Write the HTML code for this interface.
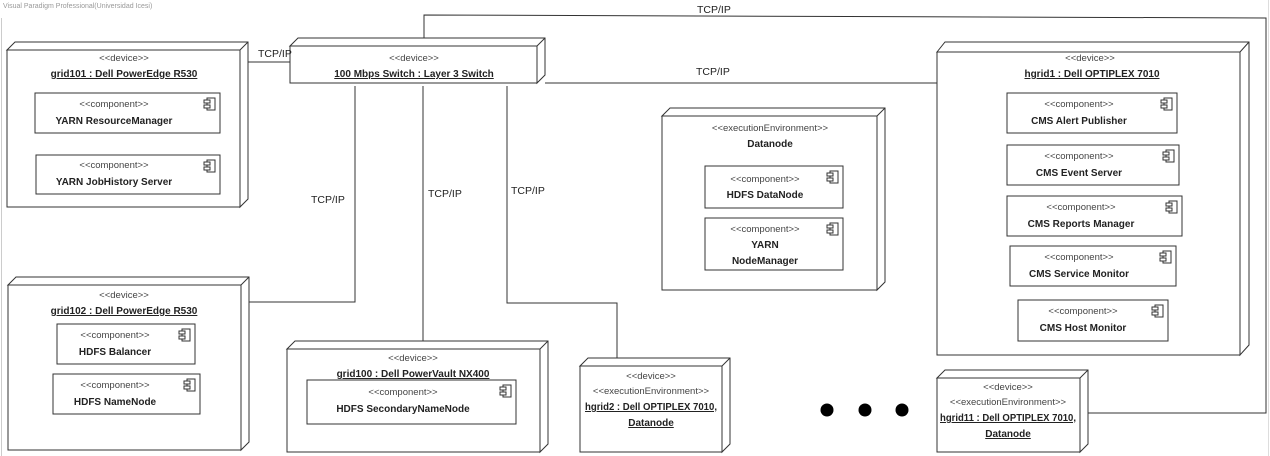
<!DOCTYPE html>
<html><head><meta charset="utf-8"><style>
html,body{margin:0;padding:0;background:#fff;}
svg{display:block;font-family:"Liberation Sans",Arial,sans-serif;}
.s{font-size:9.5px;fill:#444;}
.n{font-size:10px;font-weight:bold;fill:#222;}
.u{text-decoration:underline;}
.l{font-size:10.5px;fill:#222;}
</style></head><body>
<svg width="1270" height="456" viewBox="0 0 1270 456" xmlns="http://www.w3.org/2000/svg">
<defs>
<g id="ci"><rect x="0" y="0" width="8" height="12" fill="#fff" stroke="#333" stroke-width="1"/><rect x="-3" y="2" width="6" height="3" fill="#fff" stroke="#333" stroke-width="1"/><rect x="-3" y="7" width="6" height="3" fill="#fff" stroke="#333" stroke-width="1"/></g>
</defs>
<text x="3" y="8" style="font-size:7px;fill:#999">Visual Paradigm Professional(Universidad Icesi)</text>
<line x1="1.5" y1="18" x2="1.5" y2="456" stroke="#ccc"/>
<line x1="1268.5" y1="0" x2="1268.5" y2="456" stroke="#ddd"/>
<g fill="none" stroke="#333" stroke-width="1">
<polyline points="240,62 290,62"/>
<polyline points="424,40 424,15 1266,18 1266,413 1088,413"/>
<polyline points="545,83 937,83"/>
<polyline points="355,86 355,302 249,302"/>
<polyline points="423,86 423,341"/>
<polyline points="507,86 507,303 617,303 617,358"/>
</g>
<g fill="#fff" stroke="#333" stroke-width="1">
<polygon points="7,50 15,42 248,42 248,199 240,207 240,50"/>
<rect x="7" y="50" width="233" height="157"/>
<line x1="240" y1="50" x2="248" y2="42"/>
<polygon points="290,46 298,38 545,38 545,75 537,83 537,46"/>
<rect x="290" y="46" width="247" height="37"/>
<line x1="537" y1="46" x2="545" y2="38"/>
<polygon points="8,285 16,277 249,277 249,442 241,450 241,285"/>
<rect x="8" y="285" width="233" height="165"/>
<line x1="241" y1="285" x2="249" y2="277"/>
<polygon points="287,349 295,341 548,341 548,444 540,452 540,349"/>
<rect x="287" y="349" width="253" height="103"/>
<line x1="540" y1="349" x2="548" y2="341"/>
<polygon points="580,366 588,358 730,358 730,444 722,452 722,366"/>
<rect x="580" y="366" width="142" height="86"/>
<line x1="722" y1="366" x2="730" y2="358"/>
<polygon points="937,378 945,370 1088,370 1088,444 1080,452 1080,378"/>
<rect x="937" y="378" width="143" height="74"/>
<line x1="1080" y1="378" x2="1088" y2="370"/>
<polygon points="662,116 670,108 885,108 885,282 877,290 877,116"/>
<rect x="662" y="116" width="215" height="174"/>
<line x1="877" y1="116" x2="885" y2="108"/>
<polygon points="937,52 945,42 1249,42 1249,345 1240,355 1240,52"/>
<rect x="937" y="52" width="303" height="303"/>
<line x1="1240" y1="52" x2="1249" y2="42"/>
<rect x="35" y="93" width="185" height="40"/>
<rect x="36" y="155" width="184" height="39"/>
<rect x="57" y="324" width="138" height="40"/>
<rect x="53" y="374" width="147" height="40"/>
<rect x="307" y="380" width="209" height="44"/>
<rect x="705" y="166" width="138" height="42"/>
<rect x="705" y="218" width="138" height="52"/>
<rect x="1007" y="93" width="170" height="40"/>
<rect x="1007" y="145" width="172" height="40"/>
<rect x="1007" y="196" width="175" height="40"/>
<rect x="1010" y="246" width="166" height="40"/>
<rect x="1018" y="300" width="150" height="41"/>
</g>
<use href="#ci" x="207" y="98"/><use href="#ci" x="207" y="160"/>
<use href="#ci" x="182" y="329"/><use href="#ci" x="187" y="379"/>
<use href="#ci" x="503" y="385"/>
<use href="#ci" x="830" y="171"/><use href="#ci" x="830" y="223"/>
<use href="#ci" x="1164" y="98"/><use href="#ci" x="1166" y="150"/>
<use href="#ci" x="1169" y="201"/><use href="#ci" x="1163" y="251"/>
<use href="#ci" x="1155" y="305"/>
<g fill="#000"><circle cx="827" cy="410" r="6.5"/><circle cx="865" cy="410" r="6.5"/><circle cx="902" cy="410" r="6.5"/></g>
<g text-anchor="middle">
<text class="s" x="124" y="61">&lt;&lt;device&gt;&gt;</text>
<text class="n u" x="124" y="77">grid101 : Dell PowerEdge R530</text>
<text class="s" x="114" y="107">&lt;&lt;component&gt;&gt;</text>
<text class="n" x="114" y="124">YARN ResourceManager</text>
<text class="s" x="114" y="168">&lt;&lt;component&gt;&gt;</text>
<text class="n" x="114" y="185">YARN JobHistory Server</text>
<text class="s" x="414" y="61">&lt;&lt;device&gt;&gt;</text>
<text class="n u" x="414" y="77">100 Mbps Switch : Layer 3 Switch</text>
<text class="s" x="124" y="298">&lt;&lt;device&gt;&gt;</text>
<text class="n u" x="124" y="314">grid102 : Dell PowerEdge R530</text>
<text class="s" x="115" y="338">&lt;&lt;component&gt;&gt;</text>
<text class="n" x="115" y="355">HDFS Balancer</text>
<text class="s" x="115" y="388">&lt;&lt;component&gt;&gt;</text>
<text class="n" x="115" y="405">HDFS NameNode</text>
<text class="s" x="413" y="361">&lt;&lt;device&gt;&gt;</text>
<text class="n u" x="413" y="377">grid100 : Dell PowerVault NX400</text>
<text class="s" x="403" y="395">&lt;&lt;component&gt;&gt;</text>
<text class="n" x="403" y="412">HDFS SecondaryNameNode</text>
<text class="s" x="651" y="379">&lt;&lt;device&gt;&gt;</text>
<text class="s" x="651" y="394">&lt;&lt;executionEnvironment&gt;&gt;</text>
<text class="n u" x="651" y="410" textLength="132" lengthAdjust="spacingAndGlyphs">hgrid2 : Dell OPTIPLEX 7010,</text>
<text class="n u" x="651" y="426">Datanode</text>
<text class="s" x="1008" y="390">&lt;&lt;device&gt;&gt;</text>
<text class="s" x="1008" y="405">&lt;&lt;executionEnvironment&gt;&gt;</text>
<text class="n u" x="1008" y="421" textLength="136" lengthAdjust="spacingAndGlyphs">hgrid11 : Dell OPTIPLEX 7010,</text>
<text class="n u" x="1008" y="437">Datanode</text>
<text class="s" x="770" y="131">&lt;&lt;executionEnvironment&gt;&gt;</text>
<text class="n" x="770" y="147">Datanode</text>
<text class="s" x="765" y="182">&lt;&lt;component&gt;&gt;</text>
<text class="n" x="765" y="198">HDFS DataNode</text>
<text class="s" x="765" y="232">&lt;&lt;component&gt;&gt;</text>
<text class="n" x="765" y="248">YARN</text>
<text class="n" x="765" y="264">NodeManager</text>
<text class="s" x="1090" y="61">&lt;&lt;device&gt;&gt;</text>
<text class="n u" x="1092" y="77">hgrid1 : Dell OPTIPLEX 7010</text>
<text class="s" x="1079" y="107">&lt;&lt;component&gt;&gt;</text>
<text class="n" x="1079" y="124">CMS Alert Publisher</text>
<text class="s" x="1079" y="159">&lt;&lt;component&gt;&gt;</text>
<text class="n" x="1079" y="176">CMS Event Server</text>
<text class="s" x="1081" y="210">&lt;&lt;component&gt;&gt;</text>
<text class="n" x="1081" y="227">CMS Reports Manager</text>
<text class="s" x="1079" y="260">&lt;&lt;component&gt;&gt;</text>
<text class="n" x="1079" y="277">CMS Service Monitor</text>
<text class="s" x="1083" y="314">&lt;&lt;component&gt;&gt;</text>
<text class="n" x="1083" y="331">CMS Host Monitor</text>
</g>
<text class="l" x="258" y="57">TCP/IP</text>
<text class="l" x="697" y="13">TCP/IP</text>
<text class="l" x="696" y="75">TCP/IP</text>
<text class="l" x="311" y="203">TCP/IP</text>
<text class="l" x="428" y="197">TCP/IP</text>
<text class="l" x="511" y="194">TCP/IP</text>
</svg>
</body></html>
